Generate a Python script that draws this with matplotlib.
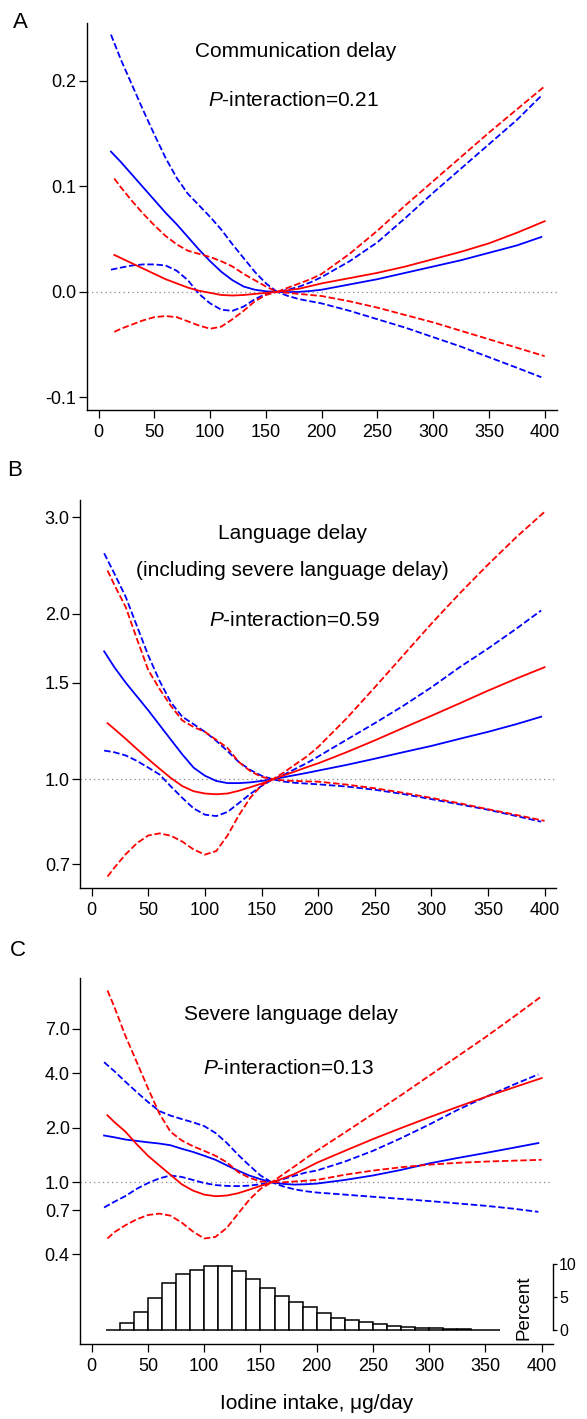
import numpy as np
import matplotlib
matplotlib.use("Agg")
import matplotlib.pyplot as plt
from matplotlib.transforms import blended_transform_factory

plt.rcParams['font.family'] = ['Liberation Sans', 'DejaVu Sans']
plt.rcParams['mathtext.fontset'] = 'custom'
plt.rcParams['mathtext.rm'] = 'Liberation Sans'
plt.rcParams['mathtext.it'] = 'Liberation Sans:italic'

# ---------------- data ----------------
blue_x = [11, 20, 30, 40, 50, 60, 70, 80, 90, 100, 110, 120, 130, 140, 150, 160,
          170, 180, 190, 200, 225, 250, 275, 300, 325, 350, 375, 397]
red_x = [14, 20, 30, 40, 50, 60, 70, 80, 90, 100, 110, 120, 130, 140, 150, 160,
         170, 180, 190, 200, 225, 250, 275, 300, 325, 350, 375, 400]

# Panel A: communication delay (difference scale)
a_blue_est = [0.133, 0.123, 0.111, 0.099, 0.087, 0.075, 0.064, 0.052, 0.040, 0.029,
              0.019, 0.011, 0.005, 0.002, 0.0005, 0.0, -0.0003, 0.0, 0.0008, 0.002,
              0.007, 0.012, 0.018, 0.024, 0.030, 0.037, 0.044, 0.052]
a_blue_hi = [0.244, 0.220, 0.196, 0.172, 0.149, 0.127, 0.108, 0.093, 0.082, 0.071,
             0.059, 0.045, 0.032, 0.019, 0.008, 0.0, 0.002, 0.005, 0.009, 0.014,
             0.029, 0.047, 0.070, 0.094, 0.117, 0.140, 0.163, 0.186]
a_blue_lo = [0.021, 0.023, 0.025, 0.026, 0.026, 0.025, 0.020, 0.011, -0.002, -0.011,
             -0.017, -0.018, -0.014, -0.007, -0.002, 0.0, -0.004, -0.007, -0.009, -0.011,
             -0.018, -0.026, -0.034, -0.043, -0.052, -0.062, -0.072, -0.081]
a_red_est = [0.035, 0.032, 0.027, 0.022, 0.017, 0.012, 0.008, 0.004, 0.001, -0.001,
             -0.003, -0.0035, -0.003, -0.002, -0.001, 0.0, 0.0015, 0.003, 0.0055, 0.008,
             0.013, 0.018, 0.024, 0.031, 0.038, 0.046, 0.056, 0.067]
a_red_hi = [0.1075, 0.099, 0.086, 0.074, 0.063, 0.053, 0.045, 0.039, 0.036, 0.033,
            0.029, 0.024, 0.017, 0.011, 0.005, 0.0, 0.004, 0.008, 0.012, 0.017,
            0.036, 0.058, 0.082, 0.105, 0.128, 0.151, 0.173, 0.195]
a_red_lo = [-0.038, -0.035, -0.031, -0.027, -0.024, -0.023, -0.024, -0.028, -0.032, -0.035,
            -0.033, -0.026, -0.018, -0.009, -0.003, 0.0, -0.001, -0.002, -0.003, -0.004,
            -0.009, -0.015, -0.022, -0.029, -0.037, -0.045, -0.053, -0.061]

# Panel B: language delay (ratio scale)
b_blue_est = [1.71, 1.60, 1.50, 1.415, 1.335, 1.255, 1.18, 1.11, 1.05, 1.015,
              0.993, 0.984, 0.984, 0.987, 0.993, 1.0, 1.009, 1.018, 1.027, 1.037,
              1.062, 1.09, 1.12, 1.15, 1.185, 1.22, 1.26, 1.30]
b_blue_hi = [2.58, 2.37, 2.15, 1.90, 1.68, 1.51, 1.38, 1.30, 1.26, 1.22,
             1.175, 1.125, 1.075, 1.04, 1.015, 1.0, 1.02, 1.045, 1.07, 1.10,
             1.18, 1.265, 1.36, 1.47, 1.60, 1.73, 1.88, 2.03]
b_blue_lo = [1.128, 1.12, 1.105, 1.08, 1.05, 1.02, 0.97, 0.925, 0.885, 0.862,
             0.857, 0.872, 0.905, 0.94, 0.972, 1.0, 0.99, 0.985, 0.982, 0.979,
             0.97, 0.957, 0.94, 0.92, 0.90, 0.88, 0.857, 0.837]
b_red_est = [1.265, 1.235, 1.185, 1.135, 1.088, 1.045, 1.005, 0.972, 0.951, 0.942,
             0.939, 0.942, 0.953, 0.967, 0.982, 1.0, 1.017, 1.034, 1.052, 1.069,
             1.12, 1.177, 1.24, 1.305, 1.375, 1.45, 1.525, 1.60]
b_red_hi = [2.40, 2.26, 2.06, 1.80, 1.58, 1.46, 1.36, 1.28, 1.245, 1.22,
            1.18, 1.14, 1.075, 1.035, 1.01, 1.0, 1.03, 1.065, 1.10, 1.145,
            1.29, 1.47, 1.68, 1.92, 2.18, 2.46, 2.76, 3.07]
b_red_lo = [0.665, 0.69, 0.73, 0.765, 0.79, 0.797, 0.789, 0.77, 0.745, 0.729,
            0.74, 0.79, 0.86, 0.925, 0.975, 1.0, 0.995, 0.993, 0.991, 0.99,
            0.978, 0.963, 0.945, 0.925, 0.904, 0.882, 0.861, 0.84]

# Panel C: severe language delay (ratio scale)
c_blue_est = [1.81, 1.77, 1.72, 1.69, 1.66, 1.635, 1.60, 1.53, 1.47, 1.40,
              1.33, 1.24, 1.16, 1.09, 1.04, 1.0, 0.98, 0.971, 0.975, 0.983,
              1.03, 1.09, 1.17, 1.27, 1.36, 1.45, 1.55, 1.645]
c_blue_hi = [4.59, 4.1, 3.58, 3.14, 2.77, 2.47, 2.33, 2.23, 2.14, 2.04,
             1.87, 1.65, 1.42, 1.24, 1.09, 1.0, 1.04, 1.085, 1.13, 1.16,
             1.30, 1.49, 1.75, 2.08, 2.50, 2.95, 3.45, 3.93]
c_blue_lo = [0.726, 0.78, 0.84, 0.92, 0.99, 1.05, 1.09, 1.07, 1.03, 0.99,
             0.965, 0.955, 0.952, 0.958, 0.975, 1.0, 0.95, 0.915, 0.893, 0.878,
             0.855, 0.832, 0.81, 0.788, 0.765, 0.742, 0.715, 0.687]
c_red_est = [2.34, 2.15, 1.90, 1.62, 1.40, 1.24, 1.10, 0.975, 0.90, 0.855,
             0.838, 0.845, 0.87, 0.91, 0.955, 1.0, 1.05, 1.11, 1.19, 1.28,
             1.49, 1.73, 1.99, 2.28, 2.60, 2.95, 3.33, 3.75]
c_red_hi = [11.4, 9.3, 6.4, 4.6, 3.3, 2.4, 1.90, 1.70, 1.58, 1.49,
            1.40, 1.29, 1.14, 1.06, 1.01, 1.0, 1.105, 1.22, 1.35, 1.49,
            1.88, 2.38, 3.02, 3.86, 4.93, 6.3, 8.15, 10.6]
c_red_lo = [0.49, 0.53, 0.58, 0.625, 0.66, 0.672, 0.655, 0.60, 0.535, 0.49,
            0.50, 0.56, 0.67, 0.80, 0.92, 1.0, 1.0, 1.01, 1.02, 1.03,
            1.10, 1.16, 1.21, 1.25, 1.28, 1.30, 1.315, 1.33]

# Distribution of iodine intake (percent per 12.5 ug/day bin)
hist_start = 12.5
hist_width = 12.5
hist_pct = [0.1, 1.1, 2.8, 4.9, 7.1, 8.5, 9.1, 9.7, 9.7, 9.0,
            7.7, 6.3, 5.2, 4.2, 3.5, 2.6, 1.9, 1.5, 1.2, 0.9,
            0.65, 0.5, 0.4, 0.3, 0.2, 0.15, 0.1, 0.05]

x_ticks = [0, 50, 100, 150, 200, 250, 300, 350, 400]
a_yticks = [-0.1, 0.0, 0.1, 0.2]
a_ylabels = ['-0.1', '0.0', '0.1', '0.2']
b_yticks = [0.7, 1.0, 1.5, 2.0, 3.0]
b_ylabels = ['0.7', '1.0', '1.5', '2.0', '3.0']
c_yticks = [0.4, 0.7, 1.0, 2.0, 4.0, 7.0]
c_ylabels = ['0.4', '0.7', '1.0', '2.0', '4.0', '7.0']
pct_ticks = [0, 5, 10]

# ---------------- layout ----------------
W, H = 587, 1419
fig = plt.figure(figsize=(W / 100, H / 100), dpi=100)


def box(l, t, r, b):
    return [l / W, 1 - b / H, (r - l) / W, (b - t) / H]


BLUE = '#0000ff'
RED = '#ff0000'
LW = 1.3
DASH = (0, (3.6, 1.5))
TICK_FS = 13
TITLE_FS = 15


def style_axes(ax, xlim, ylim, yticks, ylabels, ref):
    ax.set_xlim(*xlim)
    ax.set_ylim(*ylim)
    for s in ('top', 'right'):
        ax.spines[s].set_visible(False)
    for s in ('left', 'bottom'):
        ax.spines[s].set_linewidth(1.0)
    ax.set_xticks(x_ticks)
    ax.set_xticklabels([str(t) for t in x_ticks])
    ax.set_yticks(yticks)
    ax.set_yticklabels(ylabels)
    ax.yaxis.set_minor_locator(matplotlib.ticker.NullLocator())
    ax.tick_params(axis='both', direction='out', length=5.8, width=0.9,
                   labelsize=TICK_FS, colors='black')
    ax.tick_params(axis='y', pad=1.6)
    ax.tick_params(axis='x', pad=4.0)
    ax.axhline(ref, color='#888888', lw=0.9, linestyle=(0, (1, 2.6)), zorder=1)
    ax.patch.set_alpha(0)


def draw_curves(ax, curves):
    (bx, best, blo, bhi, rx, rest, rlo, rhi) = curves
    ax.plot(bx, bhi, color=BLUE, lw=LW, linestyle=DASH, zorder=3)
    ax.plot(bx, blo, color=BLUE, lw=LW, linestyle=DASH, zorder=3)
    ax.plot(bx, best, color=BLUE, lw=LW, zorder=3)
    ax.plot(rx, rhi, color=RED, lw=LW, linestyle=DASH, zorder=4)
    ax.plot(rx, rlo, color=RED, lw=LW, linestyle=DASH, zorder=4)
    ax.plot(rx, rest, color=RED, lw=LW, zorder=4)


def put_text(ax, x, ypx, s, size):
    tr = blended_transform_factory(ax.transData, fig.transFigure)
    ax.text(x, 1 - ypx / H, s, transform=tr, ha='center', va='center',
            fontsize=size, color='black')


# Panel A
axA = fig.add_axes(box(86.7, 22.7, 556.6, 410.0))
style_axes(axA, (-10.76, 410.7), (-0.1121, 0.2553), a_yticks, a_ylabels, 0.0)
draw_curves(axA, (blue_x, a_blue_est, a_blue_lo, a_blue_hi,
                  red_x, a_red_est, a_red_lo, a_red_hi))
put_text(axA, 177, 51.7, 'Communication delay', TITLE_FS)
put_text(axA, 175, 100, '$P$-interaction=0.21', TITLE_FS)

# Panel B
axB = fig.add_axes(box(80.0, 500.0, 555.9, 888.3))
axB.set_yscale('log')
style_axes(axB, (-10.33, 410.0), (0.633, 3.226), b_yticks, b_ylabels, 1.0)
draw_curves(axB, (blue_x, b_blue_est, b_blue_lo, b_blue_hi,
                  red_x, b_red_est, b_red_lo, b_red_hi))
put_text(axB, 177.5, 533.3, 'Language delay', TITLE_FS)
put_text(axB, 177, 570, '(including severe language delay)', TITLE_FS)
put_text(axB, 179, 620, '$P$-interaction=0.59', TITLE_FS)

# Panel C
axC = fig.add_axes(box(80.0, 978.3, 553.3, 1344.0))
axC.set_yscale('log')
style_axes(axC, (-10.4, 410.3), (0.1285, 13.3), c_yticks, c_ylabels, 1.0)
draw_curves(axC, (blue_x, c_blue_est, c_blue_lo, c_blue_hi,
                  red_x, c_red_est, c_red_lo, c_red_hi))
put_text(axC, 177.5, 1015, 'Severe language delay', TITLE_FS)
put_text(axC, 175, 1068.3, '$P$-interaction=0.13', TITLE_FS)
axC.set_xlabel('Iodine intake, \u03bcg/day', fontsize=TITLE_FS, labelpad=14)

# Histogram of intake on a secondary percent axis
axH = axC.twinx()
axH.set_position(box(80.0, 978.3, 553.3, 1344.0))
axH.set_ylim(-2.085, 53.16)
edges = [hist_start + i * hist_width for i in range(len(hist_pct))]
axH.bar(edges, hist_pct, width=hist_width, align='edge', facecolor='white',
        edgecolor='black', linewidth=1.1, zorder=2)
for s in ('top', 'left', 'bottom'):
    axH.spines[s].set_visible(False)
axH.spines['right'].set_bounds(0, 10)
axH.spines['right'].set_linewidth(1.0)
axH.set_yticks(pct_ticks)
axH.set_yticklabels([str(t) for t in pct_ticks])
axH.tick_params(axis='y', direction='out', length=2.6, width=0.9, labelsize=11.5, pad=1.5)
fig.text(524 / W, 1 - 1308 / H, 'Percent', rotation=90, ha='center', va='center',
         fontsize=13.5)

# Panel letters
fig.text(20.8 / W, 1 - 22.5 / H, 'A', ha='center', va='center', fontsize=16)
fig.text(15.0 / W, 1 - 470.5 / H, 'B', ha='center', va='center', fontsize=16)
fig.text(18.3 / W, 1 - 950 / H, 'C', ha='center', va='center', fontsize=16)

fig.savefig('out.png', dpi=100)
